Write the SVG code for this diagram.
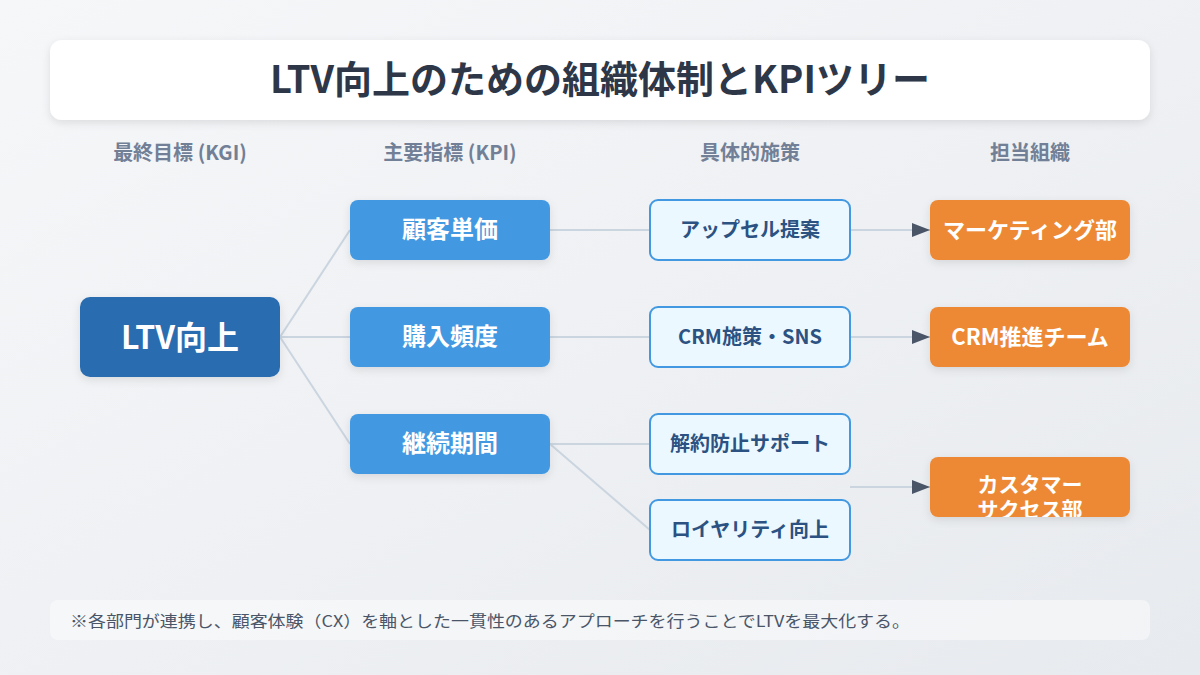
<svg xmlns="http://www.w3.org/2000/svg" width="1200" height="675" viewBox="0 0 1200 675">
<defs>
<linearGradient id="bg" x1="0" y1="0" x2="1" y2="1">
<stop offset="0" stop-color="#f6f7f9"/>
<stop offset="1" stop-color="#e7eaee"/>
</linearGradient>
<filter id="sh" x="-20%" y="-20%" width="140%" height="150%">
<feDropShadow dx="0" dy="3" stdDeviation="4" flood-color="#000" flood-opacity="0.1"/>
</filter>
<marker id="arr" markerWidth="18" markerHeight="14" refX="18" refY="7" orient="auto" markerUnits="userSpaceOnUse">
<path d="M0,0 L18,7 L0,14 Z" fill="#4a5568"/>
</marker>
<clipPath id="cs"><rect x="930" y="457" width="200" height="60" rx="8"/></clipPath>
</defs>
<style>
text{font-family:"Noto Sans CJK JP","Noto Sans",sans-serif;text-anchor:middle;font-weight:700}
.hdr{font-size:20px;fill:#718096}
.kgi{fill:#2b6cb0}
.kpi{fill:#4299e1}
.ms{fill:#ebf8ff;stroke:#4299e1;stroke-width:2}
.org{fill:#ed8936}
.tw{fill:#fff}
.tm{fill:#2c5282;font-size:20px}
.ln{stroke:#cbd5e0;stroke-width:2;fill:none}
</style>
<rect width="1200" height="675" fill="url(#bg)"/>
<g id="title">
<rect x="50" y="40" width="1100" height="80" rx="12" fill="#fff" filter="url(#sh)"/>
<text x="600" y="93" style="font-size:38px;fill:#2d3748">LTV向上のための組織体制とKPIツリー</text>
</g>
<g id="headers">
<text class="hdr" x="180" y="160">最終目標 (KGI)</text>
<text class="hdr" x="450" y="160">主要指標 (KPI)</text>
<text class="hdr" x="750" y="160">具体的施策</text>
<text class="hdr" x="1030" y="160">担当組織</text>
</g>
<g id="connectors">
<line class="ln" x1="280" y1="337" x2="350" y2="230"/>
<line class="ln" x1="280" y1="337" x2="350" y2="337"/>
<line class="ln" x1="280" y1="337" x2="350" y2="444"/>
<line class="ln" x1="550" y1="230" x2="650" y2="230"/>
<line class="ln" x1="550" y1="337" x2="650" y2="337"/>
<line class="ln" x1="550" y1="444" x2="650" y2="444"/>
<line class="ln" x1="550" y1="444" x2="650" y2="530"/>
<line class="ln" x1="850" y1="230" x2="930" y2="230" marker-end="url(#arr)"/>
<line class="ln" x1="850" y1="337" x2="930" y2="337" marker-end="url(#arr)"/>
<line class="ln" x1="850" y1="487" x2="930" y2="487" marker-end="url(#arr)"/>
</g>
<g id="n-ltv">
<rect class="kgi" x="80" y="297" width="200" height="80" rx="10" filter="url(#sh)"/>
<text class="tw" x="180" y="349" style="font-size:32px">LTV向上</text>
</g>
<g id="n-kpi1">
<rect class="kpi" x="350" y="200" width="200" height="60" rx="8" filter="url(#sh)"/>
<text class="tw" x="450" y="238" style="font-size:24px">顧客単価</text>
</g>
<g id="n-kpi2">
<rect class="kpi" x="350" y="307" width="200" height="60" rx="8" filter="url(#sh)"/>
<text class="tw" x="450" y="345" style="font-size:24px">購入頻度</text>
</g>
<g id="n-kpi3">
<rect class="kpi" x="350" y="414" width="200" height="60" rx="8" filter="url(#sh)"/>
<text class="tw" x="450" y="452" style="font-size:24px">継続期間</text>
</g>
<g id="n-m1">
<rect class="ms" x="650" y="200" width="200" height="60" rx="8"/>
<text class="tm" x="750" y="237">アップセル提案</text>
</g>
<g id="n-m2">
<rect class="ms" x="650" y="307" width="200" height="60" rx="8"/>
<text class="tm" x="750" y="344">CRM施策・SNS</text>
</g>
<g id="n-m3">
<rect class="ms" x="650" y="414" width="200" height="60" rx="8"/>
<text class="tm" x="750" y="451">解約防止サポート</text>
</g>
<g id="n-m4">
<rect class="ms" x="650" y="500" width="200" height="60" rx="8"/>
<text class="tm" x="750" y="537">ロイヤリティ向上</text>
</g>
<g id="n-o1">
<rect class="org" x="930" y="200" width="200" height="60" rx="8" filter="url(#sh)"/>
<text class="tw" x="1030" y="238" style="font-size:22px">マーケティング部</text>
</g>
<g id="n-o2">
<rect class="org" x="930" y="307" width="200" height="60" rx="8" filter="url(#sh)"/>
<text class="tw" x="1030" y="345" style="font-size:22px">CRM推進チーム</text>
</g>
<g id="n-o3">
<rect class="org" x="930" y="457" width="200" height="60" rx="8" filter="url(#sh)"/>
<g clip-path="url(#cs)">
<text class="tw" x="1030" y="492" style="font-size:21px">カスタマー</text>
<text class="tw" x="1030" y="517" style="font-size:21px">サクセス部</text>
</g>
</g>
<g id="footer">
<rect x="50" y="600" width="1100" height="40" rx="8" fill="#fff" fill-opacity="0.45"/>
<text x="70" y="627" textLength="840" lengthAdjust="spacingAndGlyphs" style="text-anchor:start;font-weight:400;font-size:16px;fill:#4a5568">※各部門が連携し、顧客体験（CX）を軸とした一貫性のあるアプローチを行うことでLTVを最大化する。</text>
</g>
</svg>
